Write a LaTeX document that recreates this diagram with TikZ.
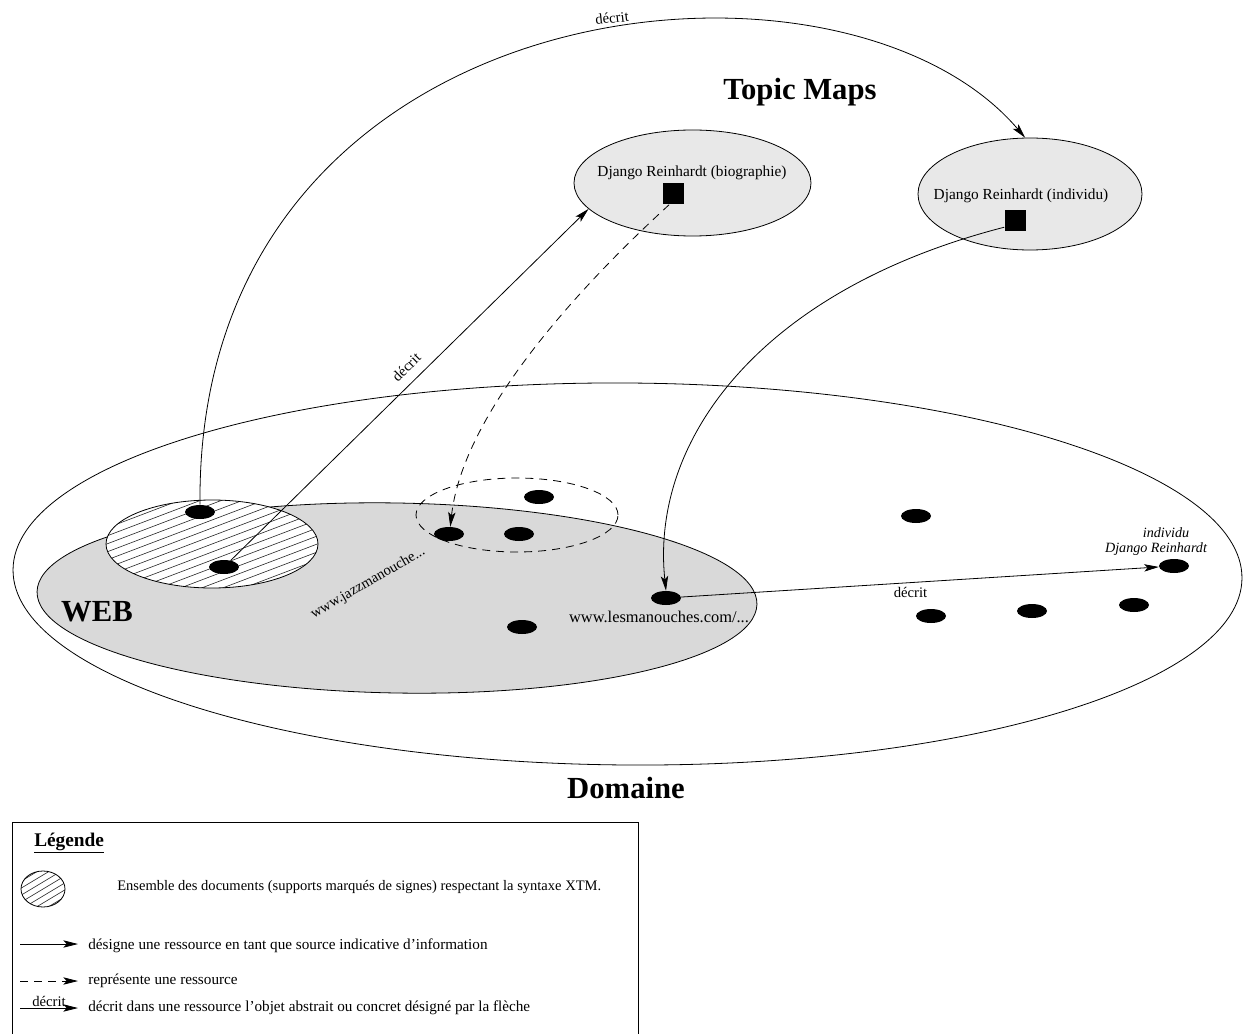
\documentclass[tikz,border=0pt]{standalone}
\usepackage{fontspec}
\setmainfont{Liberation Serif}
\usetikzlibrary{arrows.meta,shapes.geometric}
\newlength\pxu
\setlength\pxu{0.75pt}

\tikzset{
  region/.style={ellipse, draw, line width=0.6pt, inner sep=0pt},
  topicfill/.style={fill=black!9},
  webfill/.style={fill=black!15},
  hatched/.style n args={2}{path picture={
      \foreach \k in {-18,...,18}{
        \draw[black!85, line width=0.45pt]
          ([shift={(-150,{\k*#1+150*#2})}]path picture bounding box.center) --
          ([shift={(150,{\k*#1-150*#2})}]path picture bounding box.center);
      }}},
  dot/.style={ellipse, fill=black, inner sep=0pt,
              minimum width=30\pxu, minimum height=14\pxu},
  sq/.style={rectangle, fill=black, inner sep=0pt, minimum size=21\pxu},
  link/.style={line width=0.6pt, -{Stealth[length=11pt,width=5.5pt,inset=2.5pt]}},
  rep/.style={link, dash pattern=on 6pt off 4.5pt},
  lbl/.style={font=\fontsize{11}{13}\selectfont, inner sep=1pt},
  txt/.style={font=\fontsize{11.5}{13}\selectfont, inner sep=0pt},
  leg/.style={font=\fontsize{11.4}{13}\selectfont, inner sep=0pt, anchor=west},
  title/.style={font=\fontsize{23}{27}\selectfont\bfseries, inner sep=0pt},
}

\begin{document}
\begin{tikzpicture}[x=0.75pt, y=-0.75pt]
\useasboundingbox (0,0) rectangle (1248,1034);

% domain, web and the XTM document set
\node[region, minimum width=1229\pxu, minimum height=382\pxu, rotate=-0.4]
  (dom) at (627.5,574) {};
\node[region, webfill, minimum width=720\pxu, minimum height=190\pxu, rotate=-1]
  (web) at (397,598) {};
\node[region, fill=white, hatched={8}{0.38}, minimum width=212\pxu, minimum height=88\pxu]
  (xtm) at (212,544) {};
\node[ellipse, draw, dash pattern=on 6pt off 4.5pt, line width=0.6pt, inner sep=0pt,
      minimum width=202\pxu, minimum height=74\pxu] (grp) at (517,515) {};

% topics
\node[region, topicfill, minimum width=237\pxu, minimum height=106\pxu] (bio) at (692.5,183) {};
\node[region, topicfill, minimum width=224\pxu, minimum height=112\pxu] (ind) at (1030,194) {};
\node[txt] (biot) at (692,173) {Django Reinhardt (biographie)};
\node[txt] (indt) at (1021,196) {Django Reinhardt (individu)};
\node[sq] (sqBio) at (673,194) {};
\node[sq] (sqInd) at (1015,221) {};

% resources
\node[dot] (dA) at (200,512) {};
\node[dot] (dB) at (224,567) {};
\node[dot] (dC) at (539,497) {};
\node[dot] (dJ) at (449,534) {};
\node[dot] (dK) at (519,534) {};
\node[dot] (dE) at (916,516) {};
\node[dot] (dL) at (666,598) {};
\node[dot] (dM) at (522,627) {};
\node[dot] (dR) at (1174,566) {};
\node[dot] (dF) at (931,616) {};
\node[dot] (dG) at (1032,611) {};
\node[dot] (dH) at (1134,605) {};

% titles and labels
\node[title] (tm) at (800,92) {Topic Maps};
\node[title] (webt) at (97,612) {WEB};
\node[title] (domt) at (626,788) {Domaine};
\node[txt, font=\fontsize{11}{13}\selectfont, rotate=30] (jazz) at (368,583) {www.jazzmanouche...};
\node[txt, font=\fontsize{12.3}{14}\selectfont] (lesm) at (659,617) {www.lesmanouches.com/...};
\node[txt, font=\fontsize{10.6}{13}\selectfont\itshape] (indl1) at (1166,533) {individu};
\node[txt, font=\fontsize{10.6}{13}\selectfont\itshape] (indl2) at (1156,549) {Django Reinhardt};

% connectors
\draw[link] (dA.north) .. controls (195,-15) and (840,-80) .. (ind.95);
\node[lbl, rotate=6] (dec1) at (612,18) {décrit};
\draw[link] (dB) -- (bio.194) node[lbl, pos=0.52, above=6pt, sloped] (dec2) {décrit};
\draw[rep] (sqBio.250) .. controls (565,300) and (462,420) .. (dJ.80);
\draw[link] (sqInd.210) .. controls (760,290) and (650,440) .. (dL.north);
\draw[link] (dL) -- (dR) node[lbl, pos=0.48, below=2pt] (dec3) {décrit};

% legend
\draw[line width=0.6pt] (12,1040) -- (12,822) -- (638,822) -- (638,1040);
\node[font=\fontsize{14.5}{17}\selectfont\bfseries, inner sep=0pt, anchor=west]
  (legt) at (34,843) {\underline{Légende}};
\node[region, fill=white, hatched={7}{0.6}, minimum width=44\pxu, minimum height=36\pxu]
  (legx) at (43,889) {};
\node[leg, font=\fontsize{10.9}{13}\selectfont] (l1) at (117,887) {Ensemble des documents (supports marqués de signes) respectant la syntaxe XTM.};
\coordinate (a1) at (20,944); \coordinate (b1) at (78,944);
\draw[link] (a1) -- (b1);
\node[leg] (l2) at (88,946) {désigne une ressource en tant que source indicative d’information};
\coordinate (a2) at (20,981); \coordinate (b2) at (78,981);
\draw[rep] (a2) -- (b2);
\node[leg] (l3) at (88,981) {représente une ressource};
\coordinate (a3) at (20,1008); \coordinate (b3) at (78,1008);
\draw[link] (a3) -- (b3) node[lbl, midway, above=0pt] (l4d) {décrit};
\node[leg] (l4) at (88,1008) {décrit dans une ressource l’objet abstrait ou concret désigné par la flèche};
\end{tikzpicture}
\end{document}
